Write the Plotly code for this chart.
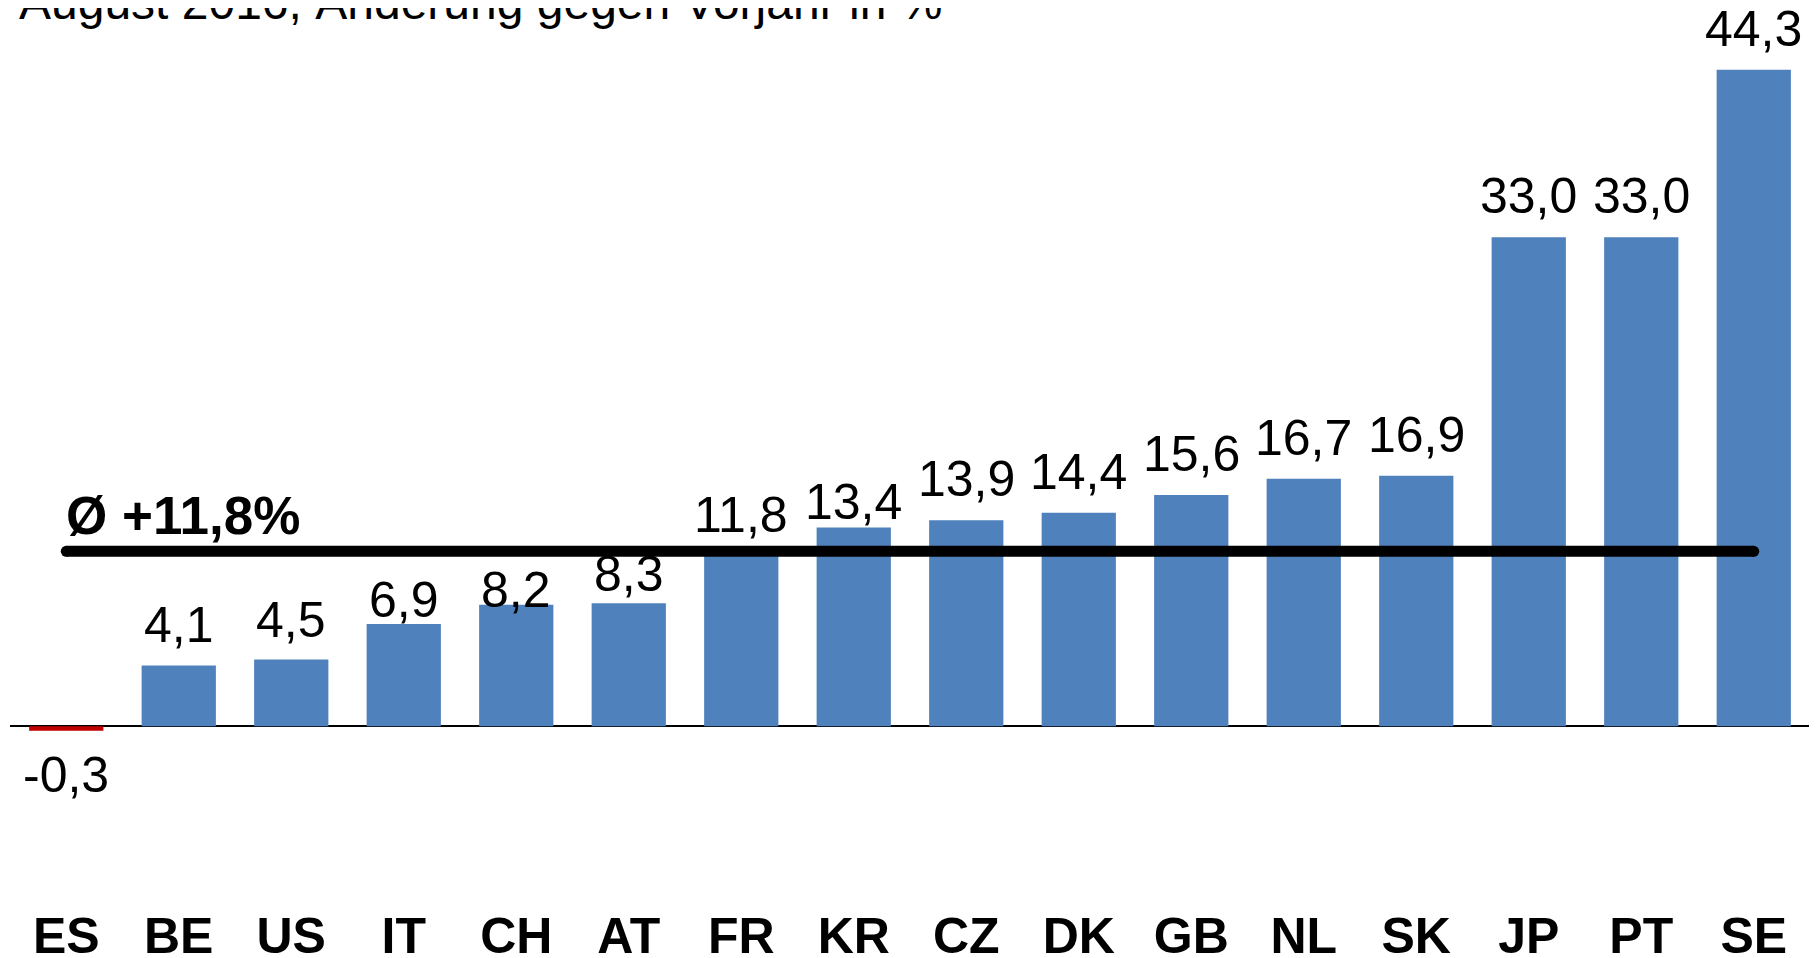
import plotly.graph_objects as go

categories = ["ES", "BE", "US", "IT", "CH", "AT", "FR", "KR", "CZ", "DK", "GB", "NL", "SK", "JP", "PT", "SE"]
values = [-0.3, 4.1, 4.5, 6.9, 8.2, 8.3, 11.8, 13.4, 13.9, 14.4, 15.6, 16.7, 16.9, 33.0, 33.0, 44.3]
average = 11.8
title_text = "August 2016, Änderung gegen Vorjahr in %"
avg_text = "Ø +11,8%"

# manual label nudges (px) used in the original to keep labels clear of the average line
label_nudge = {"BE": -1, "US": -1, "IT": -17, "CH": -26, "AT": -12, "FR": -5, "KR": -15}

BLUE = "#4F81BD"
RED = "#C00000"
FONT = "Liberation Sans, Arial, sans-serif"

def fmt(v):
    return f"{v:.1f}".replace(".", ",")

colors = [RED if v < 0 else BLUE for v in values]

fig = go.Figure()
fig.add_trace(go.Bar(x=categories, y=values, marker=dict(color=colors, line=dict(width=0)),
                     width=0.66, hoverinfo="skip"))
fig.add_trace(go.Scatter(x=[categories[0], categories[-1]], y=[average, average], mode="lines+markers",
                         line=dict(color="black", width=11),
                         marker=dict(color="black", size=11, line=dict(width=0)),
                         hoverinfo="skip"))

annotations = []
for c, v in zip(categories, values):
    if v >= 0:
        annotations.append(dict(x=c, y=v, text=fmt(v), showarrow=False, xanchor="center",
                                yanchor="bottom", yshift=11 + label_nudge.get(c, 0),
                                font=dict(family=FONT, size=50, color="black")))
    else:
        annotations.append(dict(x=c, y=v, text=fmt(v), showarrow=False, xanchor="center",
                                yanchor="top", yshift=-14,
                                font=dict(family=FONT, size=50, color="black")))

annotations.append(dict(xref="paper", x=54 / 1800, y=average, text=f"<b>{avg_text}</b>", showarrow=False,
                        xanchor="left", yanchor="bottom", yshift=4,
                        font=dict(family=FONT, size=53, color="black")))

# page has an 8px body margin: figure drawn at (8, 8)
W, H = 1809, 950
px_per_unit = 14.82
top_px, bottom_px, zero_px = 52, 888, 718.2
y_range = [(zero_px - bottom_px) / px_per_unit, (zero_px - top_px) / px_per_unit]
plot_h = bottom_px - top_px

annotations.append(dict(xref="paper", yref="paper", x=7 / 1800, y=1 + 29 / plot_h, text=title_text,
                        showarrow=False, xanchor="left", yanchor="bottom",
                        font=dict(family=FONT, size=48, color="black")))

fig.update_layout(
    width=W, height=H,
    margin=dict(l=2, r=7, t=top_px, b=H - bottom_px, pad=0, autoexpand=False),
    paper_bgcolor="white", plot_bgcolor="white",
    showlegend=False,
    bargap=0.34,
    annotations=annotations,
    xaxis=dict(type="category", categoryorder="array", categoryarray=categories,
               showgrid=False, showline=False, ticks="", zeroline=False, automargin=False,
               tickfont=dict(family=FONT, size=50, color="black", weight="bold"),
               ticklabelstandoff=6, range=[-0.5, 15.5], fixedrange=True),
    yaxis=dict(range=y_range, showgrid=False, showticklabels=False, ticks="", automargin=False,
               zeroline=True, zerolinecolor="black", zerolinewidth=1.5, showline=False,
               fixedrange=True),
)

fig.write_html("out.html")
